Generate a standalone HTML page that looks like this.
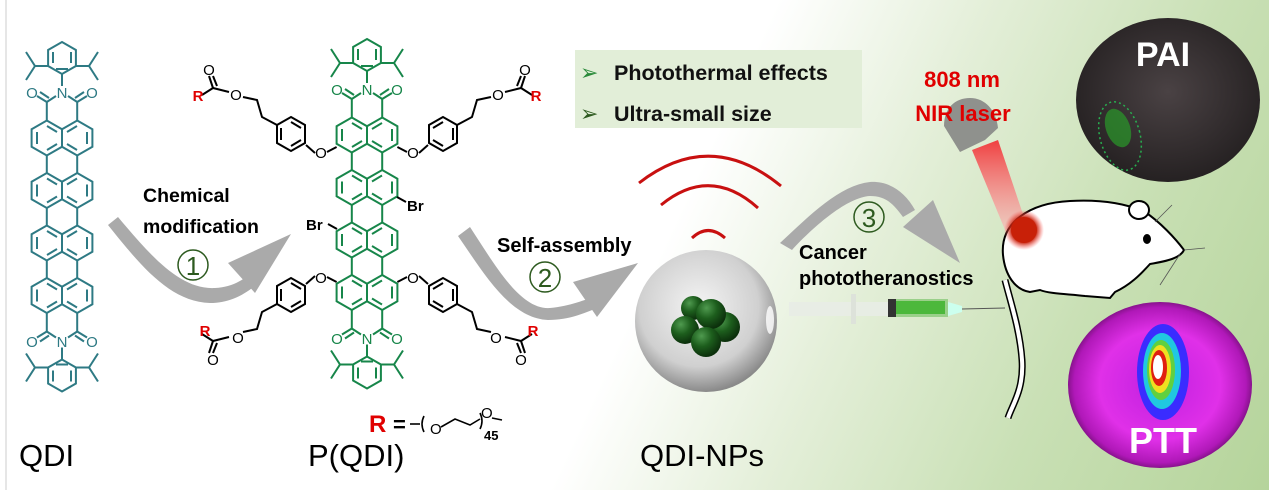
<!DOCTYPE html>
<html><head><meta charset="utf-8"><style>
html,body{margin:0;padding:0;width:1269px;height:490px;overflow:hidden;}
body{background:linear-gradient(115deg,#fff 0%,#fff 52%,#e4efd9 66%,#c9e0b5 82%,#b5d49b 100%);}
svg{position:absolute;left:0;top:0;}
text{font-family:"Liberation Sans",Arial,sans-serif;}
</style></head><body>
<svg width="1269" height="490" viewBox="0 0 1269 490">
<defs>
<g id="naph" fill="none">
<polygon points="-15.2,-17.5 0,-8.75 0,8.75 -15.2,17.5 -30.4,8.75 -30.4,-8.75"/>
<polygon points="15.2,-17.5 30.4,-8.75 30.4,8.75 15.2,17.5 0,8.75 0,-8.75"/>
<line x1="-25" y1="-6" x2="-25" y2="6"/><line x1="25" y1="-6" x2="25" y2="6"/>
<line x1="-15" y1="-12" x2="-5" y2="-6"/><line x1="15" y1="12" x2="5" y2="6"/>
<line x1="-15" y1="12" x2="-5" y2="6"/><line x1="15" y1="-12" x2="5" y2="-6"/>
</g>
<g id="cap" fill="none">
<line x1="-15.2" y1="120.5" x2="-15.2" y2="102"/><line x1="15.2" y1="120.5" x2="15.2" y2="102"/>
<line x1="-15.2" y1="102" x2="-6" y2="96"/><line x1="15.2" y1="102" x2="6" y2="96"/>
<line x1="-15.2" y1="102" x2="-25" y2="96"/><line x1="-13" y1="98" x2="-22" y2="92"/>
<line x1="15.2" y1="102" x2="25" y2="96"/><line x1="13" y1="98" x2="22" y2="92"/>
<line x1="0" y1="86" x2="0" y2="74"/>
<polygon points="0,42 13.9,50 13.9,66 0,74 -13.9,66 -13.9,50"/>
<line x1="-9" y1="52" x2="-9" y2="63"/><line x1="9" y1="52" x2="9" y2="63"/><line x1="-6" y1="69" x2="6" y2="69"/>
<polyline points="-13.9,66 -27,66 -36,52"/><line x1="-27" y1="66" x2="-36" y2="80"/>
<polyline points="13.9,66 27,66 36,52"/><line x1="27" y1="66" x2="36" y2="80"/>
</g>
<g id="core">
<use href="#naph" transform="translate(0,138)"/>
<use href="#naph" transform="translate(0,190.5)"/>
<use href="#naph" transform="translate(0,243)"/>
<use href="#naph" transform="translate(0,295.5)"/>
<line x1="-15.2" y1="155.5" x2="-15.2" y2="173"/><line x1="15.2" y1="155.5" x2="15.2" y2="173"/>
<line x1="-15.2" y1="208" x2="-15.2" y2="225.5"/><line x1="15.2" y1="208" x2="15.2" y2="225.5"/>
<line x1="-15.2" y1="260.5" x2="-15.2" y2="278"/><line x1="15.2" y1="260.5" x2="15.2" y2="278"/>
<use href="#cap"/>
<use href="#cap" transform="translate(0,433.5) scale(1,-1)"/>
</g>
<g id="arm" fill="none" stroke="#000" stroke-width="2">
<line x1="336.6" y1="147" x2="327" y2="152"/>
<line x1="315" y1="153" x2="306" y2="145"/>
<polygon points="291,117 305,125 305,143 291,151 277,143 277,125"/>
<line x1="281" y1="128" x2="281" y2="140"/><line x1="291" y1="122" x2="301" y2="128"/><line x1="291" y1="146" x2="301" y2="140"/>
<polyline points="277,125 262,117 257,100 243,97"/>
<polyline points="229,92 213,88 202,95"/>
<line x1="213" y1="88" x2="209" y2="76"/><line x1="217" y1="86" x2="213" y2="76"/>
</g>
<radialGradient id="sph" cx="0.45" cy="0.4" r="0.6"><stop offset="0" stop-color="#f4f4f4"/><stop offset="0.7" stop-color="#d0d0d0"/><stop offset="1" stop-color="#8a8a8a"/></radialGradient>
<radialGradient id="ball" cx="0.35" cy="0.3" r="0.7"><stop offset="0" stop-color="#4f9a4f"/><stop offset="0.5" stop-color="#1d5e1d"/><stop offset="1" stop-color="#0c300c"/></radialGradient>
<radialGradient id="ptt" cx="0.5" cy="0.5" r="0.55"><stop offset="0" stop-color="#c020e0"/><stop offset="0.6" stop-color="#e030e8"/><stop offset="0.85" stop-color="#b018b8"/><stop offset="1" stop-color="#4a0a4a"/></radialGradient>
<radialGradient id="pai" cx="0.5" cy="0.45" r="0.6"><stop offset="0" stop-color="#4a4244"/><stop offset="1" stop-color="#221e1f"/></radialGradient>
<linearGradient id="beam" x1="0" y1="0" x2="0" y2="1"><stop offset="0" stop-color="#f04040"/><stop offset="1" stop-color="#fbc8c8" stop-opacity="0.6"/></linearGradient>
<radialGradient id="spot" cx="0.5" cy="0.5" r="0.5"><stop offset="0" stop-color="#d02000"/><stop offset="0.6" stop-color="#c01800"/><stop offset="1" stop-color="#ff6060" stop-opacity="0"/></radialGradient>
</defs>

<line x1="6" y1="0" x2="6" y2="490" stroke="#ccc" stroke-width="1"/>

<!-- QDI -->
<g transform="translate(62,0)" stroke="#2e7a84" stroke-width="2" fill="none"><use href="#core"/></g>
<g fill="#2e7a84" font-size="15" text-anchor="middle">
<text x="62" y="98">N</text><text x="32" y="98">O</text><text x="92" y="98">O</text>
<text x="62" y="347">N</text><text x="32" y="347">O</text><text x="92" y="347">O</text>
</g>

<!-- P(QDI) -->
<g transform="translate(367,-3)" stroke="#17864a" stroke-width="2" fill="none"><use href="#core"/></g>
<g fill="#17864a" font-size="15" text-anchor="middle">
<text x="367" y="95">N</text><text x="337" y="95">O</text><text x="397" y="95">O</text>
<text x="367" y="344">N</text><text x="337" y="344">O</text><text x="397" y="344">O</text>
</g>
<use href="#arm"/>
<use href="#arm" transform="translate(734,0) scale(-1,1)"/>
<use href="#arm" transform="translate(0,429) scale(1,-1)"/>
<use href="#arm" transform="translate(734,429) scale(-1,-1)"/>
<g stroke="#000" stroke-width="2"><line x1="397" y1="197" x2="406" y2="202"/><line x1="337" y1="229" x2="328" y2="224"/></g>
<g font-size="15" text-anchor="middle" fill="#000">
<text x="321" y="158">O</text><text x="413" y="158">O</text>
<text x="321" y="283">O</text><text x="413" y="283">O</text>
<text x="236" y="100">O</text><text x="498" y="100">O</text>
<text x="209" y="75">O</text><text x="525" y="75">O</text>
<text x="238" y="343">O</text><text x="496" y="343">O</text>
<text x="213" y="365">O</text><text x="521" y="365">O</text>
</g>
<g font-size="15" font-weight="bold" fill="#000"><text x="407" y="211">Br</text><text x="306" y="230">Br</text></g>
<g font-size="15" font-weight="bold" fill="#e00000" text-anchor="middle">
<text x="198" y="101">R</text><text x="536" y="101">R</text>
<text x="205" y="336">R</text><text x="533" y="336">R</text>
</g>
<!-- R = -->
<text x="369" y="432" font-size="24" font-weight="bold" fill="#e00000">R</text>
<text x="393" y="432" font-size="22" font-weight="bold" fill="#000">=</text>
<g stroke="#000" stroke-width="1.6" fill="none">
<line x1="410" y1="424" x2="420" y2="424"/>
<path d="M424,416 Q420,424 424,432"/>
<polyline points="441,427 455,419 470,425 480,419"/>
<path d="M480,413 Q484,421 480,429"/>
<line x1="492" y1="418" x2="502" y2="420"/>
</g>
<text x="430" y="434" font-size="15" fill="#000">O</text>
<text x="481" y="418" font-size="15" fill="#000">O</text>
<text x="484" y="440" font-size="13" font-weight="bold" fill="#000">45</text>

<!-- labels -->
<g font-size="31" fill="#000">
<text x="19" y="466">QDI</text>
<text x="308" y="466">P(QDI)</text>
<text x="640" y="466">QDI-NPs</text>
</g>

<!-- arrows -->
<g fill="#aaaaaa">
<path d="M108,225 L118,217 C150,255 180,290 215,288 C235,287 245,278 255,270 L262,280 C245,295 230,303 210,303 C170,302 140,265 108,225 Z"/>
<polygon points="291,234 228,263 255,293"/>
<path d="M458,236 L470,227 C495,265 520,310 550,308 C570,306 585,300 598,295 L604,305 C585,313 570,320 548,320 C510,318 485,275 458,236 Z"/>
<polygon points="638,263 573,282 597,317"/>
<path d="M780,243 C810,215 840,185 870,182 C890,181 905,192 915,210 L903,217 C893,203 885,196 870,196 C848,197 815,225 792,250 Z"/>
<polygon points="960,263 903,227 933,200"/>
</g>
<g font-size="19.5" font-weight="bold" fill="#000">
<text x="143" y="202">Chemical</text><text x="143" y="233">modification</text>
</g>
<g font-size="20" font-weight="bold" fill="#000">
<text x="497" y="252">Self-assembly</text>
<text x="799" y="259">Cancer</text><text x="799" y="285">phototheranostics</text>
</g>
<g fill="none" stroke="#2d5a1f" stroke-width="1.5">
<circle cx="193" cy="265" r="15"/><circle cx="545" cy="277" r="15"/><circle cx="869" cy="217" r="15"/>
</g>
<g font-size="26" fill="#2d5a1f" text-anchor="middle">
<text x="193" y="275">1</text><text x="545" y="287">2</text><text x="869" y="227">3</text>
</g>

<!-- feature box -->
<rect x="575" y="50" width="287" height="78" fill="#e2eed8"/>
<g font-size="21.5" font-weight="bold" fill="#111">
<text x="614" y="80">Photothermal effects</text>
<text x="614" y="121">Ultra-small size</text>
</g>
<g font-size="22" fill="#2a8a3a"><text x="580" y="80">➢</text><text x="580" y="121" fill="#2d5a1f">➢</text></g>

<!-- nanoparticle -->
<g fill="none" stroke="#c81010" stroke-width="3">
<path d="M639,183 Q710,128 781,186"/>
<path d="M661,205 Q710,165 758,208"/>
<path d="M692,238 Q708,223 725,238"/>
</g>
<circle cx="706" cy="321" r="71" fill="url(#sph)"/>
<ellipse cx="770" cy="320" rx="4" ry="14" fill="#fff" opacity="0.8"/>
<g>
<circle cx="693" cy="308" r="12" fill="url(#ball)"/>
<circle cx="725" cy="327" r="15" fill="url(#ball)"/>
<circle cx="685" cy="330" r="14" fill="url(#ball)"/>
<circle cx="711" cy="314" r="15" fill="url(#ball)"/>
<circle cx="706" cy="342" r="15" fill="url(#ball)"/>
</g>

<!-- syringe -->
<rect x="789" y="302" width="100" height="14" fill="#e8ece6" opacity="0.9"/>
<rect x="851" y="294" width="5" height="30" fill="#dde2da"/>
<rect x="888" y="299" width="60" height="18" fill="#9ad08a"/>
<rect x="895" y="301" width="50" height="13" fill="#4cb83c"/>
<rect x="888" y="299" width="8" height="18" fill="#333"/>
<polygon points="948,302 962,306 962,312 948,316" fill="#cfe"/>
<line x1="962" y1="309" x2="1005" y2="308" stroke="#555" stroke-width="1"/>

<!-- laser -->
<polygon points="972,150 998,140 1030,235 1010,242" fill="url(#beam)"/>
<path d="M944,126 C944,108 955,98 970,98 C985,98 996,110 998,128 L985,140 L960,152 Z" fill="#8f918d"/>
<g font-size="22" font-weight="bold" fill="#e00000" text-anchor="middle">
<text x="962" y="87">808 nm</text><text x="963" y="121">NIR laser</text>
</g>

<!-- mouse -->
<path d="M1005,280 C1010,300 1020,330 1022,360 C1024,390 1012,405 1008,418" fill="none" stroke="#000" stroke-width="7"/>
<path d="M1005,280 C1010,300 1020,330 1022,360 C1024,390 1012,405 1008,418" fill="none" stroke="#fff" stroke-width="4"/>
<path d="M1003,255 C1000,222 1030,203 1070,201 C1105,199 1130,205 1145,212 C1160,222 1175,238 1184,250 C1180,258 1168,261 1150,264 C1140,275 1130,285 1115,292 L1110,298 L1085,296 C1070,294 1050,294 1040,290 L1030,292 C1015,290 1005,275 1003,255 Z" fill="#fff" stroke="#000" stroke-width="2"/>
<ellipse cx="1139" cy="210" rx="10" ry="9" fill="#fff" stroke="#000" stroke-width="2"/>
<ellipse cx="1147" cy="239" rx="4" ry="5" fill="#000"/>
<g stroke="#555" stroke-width="0.8"><line x1="1184" y1="250" x2="1205" y2="248"/><line x1="1180" y1="254" x2="1160" y2="285"/><line x1="1155" y1="222" x2="1172" y2="205"/></g>
<circle cx="1024" cy="230" r="20" fill="url(#spot)"/>
<circle cx="1024" cy="230" r="13" fill="#c82008"/>

<!-- PAI -->
<ellipse cx="1168" cy="100" rx="92" ry="82" fill="url(#pai)"/>
<ellipse cx="1118" cy="128" rx="12" ry="20" fill="#2a9a2a" opacity="0.7" transform="rotate(-20 1118 128)"/>
<ellipse cx="1120" cy="136" rx="20" ry="35" fill="none" stroke="#28b050" stroke-width="1.5" stroke-dasharray="2 3" transform="rotate(-15 1120 136)"/>
<text x="1163" y="66" font-size="34" font-weight="bold" fill="#fff" text-anchor="middle">PAI</text>

<!-- PTT -->
<ellipse cx="1160" cy="385" rx="92" ry="83" fill="url(#ptt)"/>
<ellipse cx="1163" cy="372" rx="26" ry="48" fill="#3a2cff"/>
<ellipse cx="1162" cy="371" rx="19" ry="38" fill="#20c8e0"/>
<ellipse cx="1161" cy="370" rx="14" ry="30" fill="#60d040"/>
<ellipse cx="1160" cy="369" rx="11" ry="24" fill="#f0e020"/>
<ellipse cx="1159" cy="368" rx="8" ry="18" fill="#e02010"/>
<ellipse cx="1158" cy="367" rx="5" ry="12" fill="#fff"/>
<text x="1163" y="453" font-size="36" font-weight="bold" fill="#fff" text-anchor="middle">PTT</text>
</svg>
</body></html>
